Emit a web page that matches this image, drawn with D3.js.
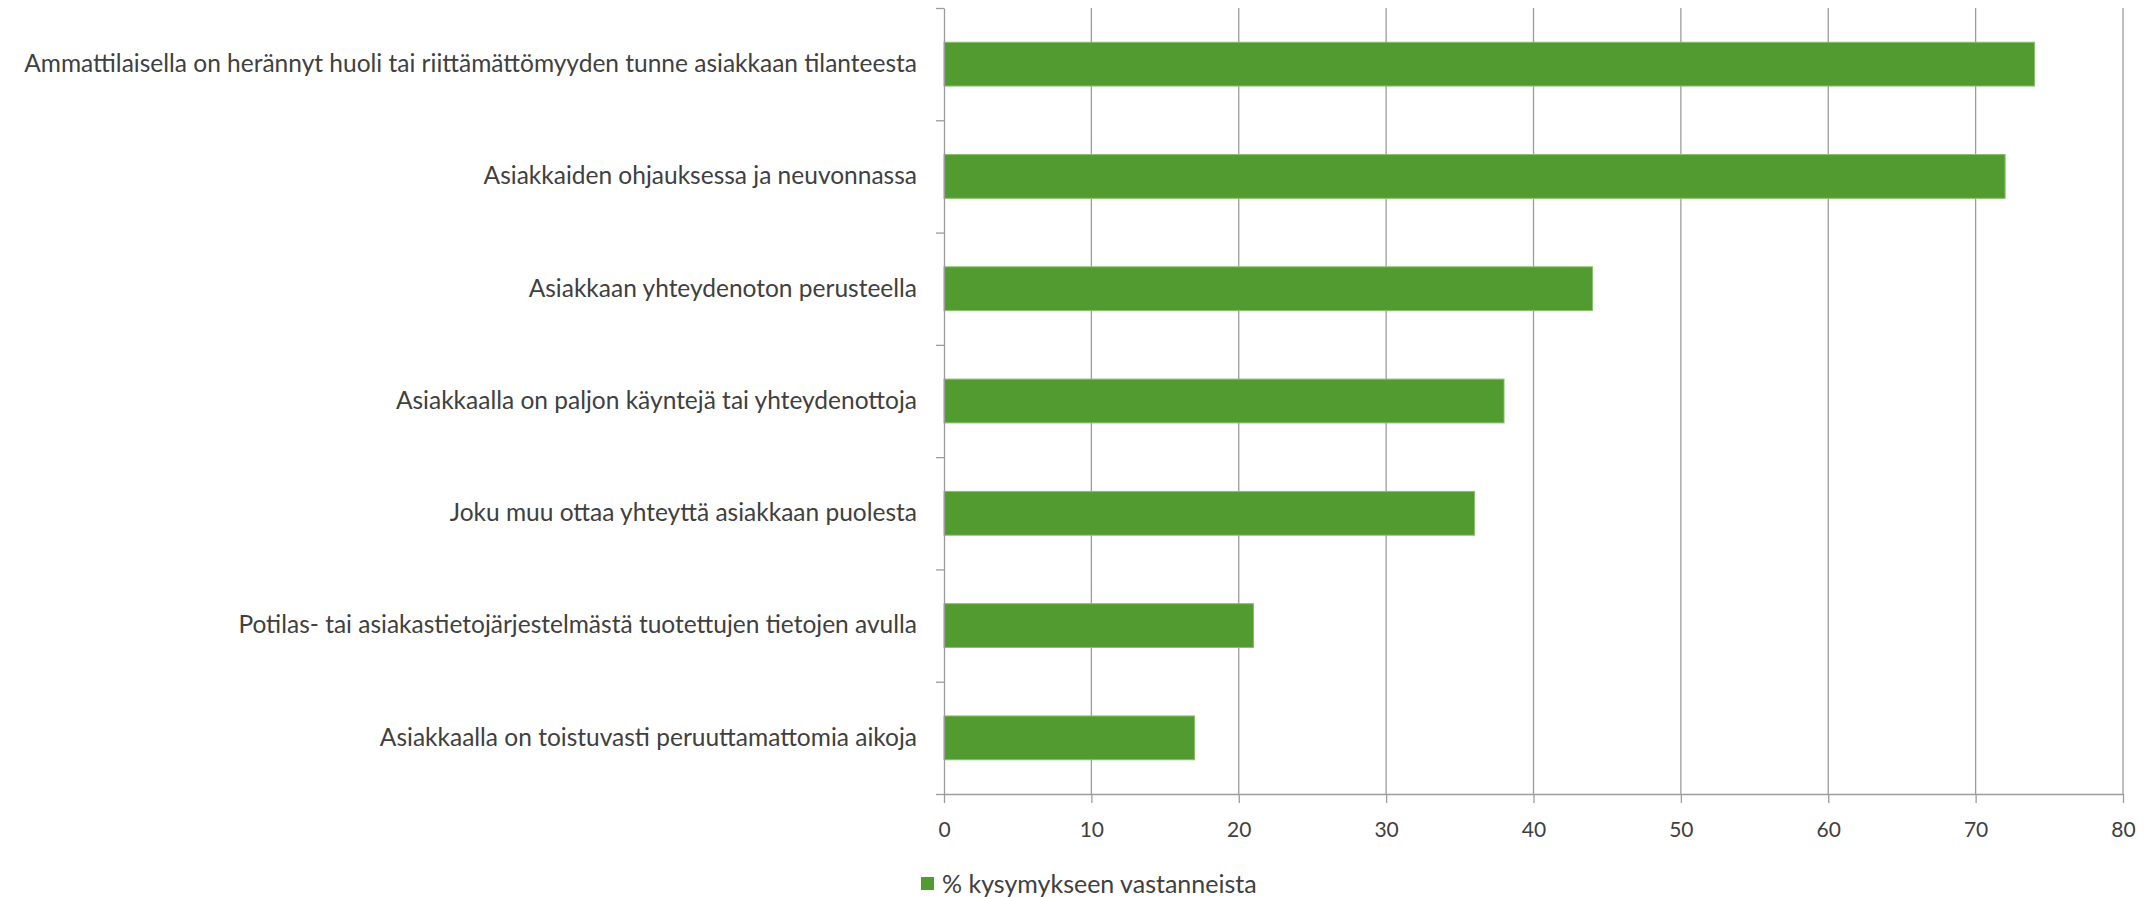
<!DOCTYPE html>
<html>
<head>
<meta charset="utf-8">
<script src="https://cdn.jsdelivr.net/npm/d3@7"></script>
<style>
	body { margin: 0; background: #fff; }
	text { fill: #404040; }
</style>
</head>
<body>
<div id="graph"></div>
<script>
// categories, top to bottom, as they appear in the chart
var categories = [
	"Ammattilaisella on herännyt huoli tai riittämättömyyden tunne asiakkaan tilanteesta",
	"Asiakkaiden ohjauksessa ja neuvonnassa",
	"Asiakkaan yhteydenoton perusteella",
	"Asiakkaalla on paljon käyntejä tai yhteydenottoja",
	"Joku muu ottaa yhteyttä asiakkaan puolesta",
	"Potilas- tai asiakastietojärjestelmästä tuotettujen tietojen avulla",
	"Asiakkaalla on toistuvasti peruuttamattomia aikoja"
];

// % kysymykseen vastanneista
var values = [74, 72, 44, 38, 36, 21, 17];

var xTicks = [0, 10, 20, 30, 40, 50, 60, 70, 80];
var seriesName = "% kysymykseen vastanneista";

var width = 2147, height = 897;
var plotLeft = 944, plotRight = 2123, plotTop = 8, plotBottom = 794;

var barColor = "#529b30", barEdge = "#88c068", gridColor = "#9c9c9c";
var font = "Lato, 'Noto Sans', sans-serif";

var xScale = d3.scaleLinear()
	.domain([0, 80])
	.range([plotLeft, plotRight]);

var yScale = d3.scaleBand()
	.domain(categories)
	.range([plotTop, plotBottom])
	.paddingInner(0.61)
	.paddingOuter(0.305);

// category boundaries for the small ticks on the left
var yEdge = d3.scaleLinear()
	.domain([0, categories.length])
	.range([plotTop, plotBottom]);

var svg = d3.select("#graph").append("svg")
	.attr("width", width)
	.attr("height", height)
	.style("display", "block");

// vertical gridlines
svg.append("g")
	.selectAll("line")
	.data(xTicks.slice(1))
	.join("line")
	.attr("x1", function (d) { return xScale(d); })
	.attr("x2", function (d) { return xScale(d); })
	.attr("y1", plotTop)
	.attr("y2", plotBottom)
	.attr("stroke", gridColor)
	.attr("stroke-width", 1.3);

// bars
svg.append("g")
	.selectAll("rect")
	.data(values)
	.join("rect")
	.attr("x", xScale(0))
	.attr("y", function (d, i) { return yScale(categories[i]); })
	.attr("width", function (d) { return xScale(d) - xScale(0); })
	.attr("height", yScale.bandwidth())
	.attr("fill", barColor)
	.attr("stroke", barEdge)
	.attr("stroke-width", 1);

// left axis: boundary ticks
var edgeAxis = svg.append("g")
	.attr("transform", "translate(" + plotLeft + ",0)")
	.call(d3.axisLeft(yEdge)
		.tickValues(d3.range(categories.length + 1))
		.tickFormat("")
		.tickSizeInner(8)
		.tickSizeOuter(0));
edgeAxis.selectAll("line, path")
	.attr("stroke", gridColor)
	.attr("stroke-width", 1.3);

// left axis: category labels
var labelAxis = svg.append("g")
	.attr("transform", "translate(" + plotLeft + ",0)")
	.call(d3.axisLeft(yScale).tickSize(0).tickPadding(27));
labelAxis.select(".domain").remove();
labelAxis.selectAll("text")
	.attr("font-family", font)
	.attr("font-size", 24.5)
	.attr("fill", "#404040");

// bottom axis
var xAxis = svg.append("g")
	.attr("transform", "translate(0," + plotBottom + ")")
	.call(d3.axisBottom(xScale)
		.tickValues(xTicks)
		.tickSizeInner(9)
		.tickSizeOuter(0)
		.tickPadding(19));
xAxis.selectAll("line, path")
	.attr("stroke", gridColor)
	.attr("stroke-width", 1.3);
xAxis.selectAll("text")
	.attr("font-family", font)
	.attr("font-size", 21)
	.attr("fill", "#404040");

// legend
var legend = svg.append("g")
	.attr("transform", "translate(921,877)");
legend.append("rect")
	.attr("width", 13)
	.attr("height", 13)
	.attr("fill", barColor);
legend.append("text")
	.attr("x", 21)
	.attr("y", 7)
	.attr("dy", "0.35em")
	.attr("font-family", font)
	.attr("font-size", 25)
	.text(seriesName);
</script>
</body>
</html>
